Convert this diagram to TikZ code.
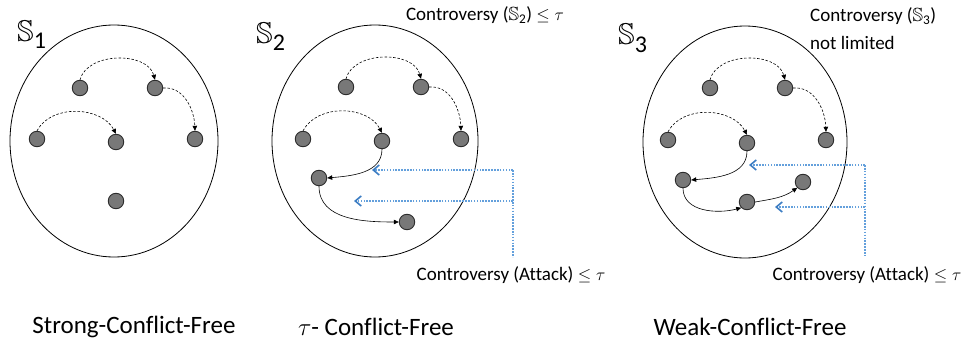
\documentclass[tikz,border=0pt]{standalone}
\usepackage{amsmath,amssymb}
\usepackage{fontspec}
\setmainfont[Ligatures=NoCommon]{Carlito}
\usetikzlibrary{arrows.meta}
\definecolor{nodefill}{RGB}{120,120,120}
\definecolor{nodeline}{RGB}{45,45,45}
\definecolor{dotblue}{RGB}{100,160,220}
\definecolor{tipblue}{RGB}{60,125,195}
\begin{document}
\begin{tikzpicture}[x=1pt,y=1pt,
  setell/.style={draw=black,line width=0.8pt},
  arg/.style={circle,fill=nodefill,draw=nodeline,line width=0.9pt,minimum size=15.5pt,inner sep=0pt},
  dasharr/.style={draw=black,line width=0.6pt,dash pattern=on 2.5pt off 1.8pt,-{Triangle[length=5pt,width=4.5pt]}},
  solarr/.style={draw=black,line width=0.6pt,-{Triangle[length=5pt,width=4.5pt]}},
  blueline/.style={draw=dotblue,line width=1.8pt,dash pattern=on 1.6pt off 1.3pt},
  bluearr/.style={blueline,-{Straight Barb[length=6pt,width=10pt,color=tipblue,line width=1.6pt]}},
  setlab/.style={inner sep=0pt,anchor=base west},
  annot/.style={inner sep=0pt,font=\fontsize{19}{28}\selectfont},
  bottomlab/.style={inner sep=0pt,font=\fontsize{25}{28}\selectfont}
]
\useasboundingbox (0,0) rectangle (962,341);

% ellipses
\draw[setell] (114,200) ellipse [x radius=104,y radius=116];
\draw[setell] (375,200) ellipse [x radius=103,y radius=116];
\draw[setell] (745,199) ellipse [x radius=102,y radius=116];

% set labels
\node[setlab] (s1) at (17,299) {{\fontsize{30}{30}\selectfont$\mathbb{S}$}\raisebox{-7pt}{\fontsize{24}{24}\selectfont 1}};
\node[setlab] (s2) at (256,298) {{\fontsize{30}{30}\selectfont$\mathbb{S}$}\raisebox{-7pt}{\fontsize{24}{24}\selectfont 2}};
\node[setlab] (s3) at (618,296) {{\fontsize{30}{30}\selectfont$\mathbb{S}$}\raisebox{-7pt}{\fontsize{24}{24}\selectfont 3}};

% set 1
\node[arg] (a1) at (80,253) {};
\node[arg] (a2) at (155,253) {};
\node[arg] (a3) at (37,202) {};
\node[arg] (a4) at (116,199) {};
\node[arg] (a5) at (195,202) {};
\node[arg] (a6) at (116,140) {};
\draw[dasharr] (a1.north) to[out=75,in=105] (a2.north);
\draw[dasharr] (a2.east) to[out=5,in=92] (a5.north);
\draw[dasharr] (a3.north) to[out=62,in=118] (a4.north);

% set 2
\node[arg] (b1) at (346,254) {};
\node[arg] (b2) at (421,254) {};
\node[arg] (b3) at (303,202) {};
\node[arg] (b4) at (382,200) {};
\node[arg] (b5) at (461,202) {};
\node[arg] (b6) at (319,163) {};
\node[arg] (b7) at (407,119) {};
\draw[dasharr] (b1.north) to[out=75,in=105] (b2.north);
\draw[dasharr] (b2.east) to[out=5,in=92] (b5.north);
\draw[dasharr] (b3.north) to[out=62,in=118] (b4.north);
\draw[solarr] (b4.south) to[out=-90,in=5] (b6.east);
\draw[solarr] (b6.south) to[out=-90,in=180] (b7.west);

% set 3
\node[arg] (c1) at (710,253) {};
\node[arg] (c2) at (785,253) {};
\node[arg] (c3) at (668,201) {};
\node[arg] (c4) at (747,198) {};
\node[arg] (c5) at (826,201) {};
\node[arg] (c6) at (683,161) {};
\node[arg] (c7) at (747,139) {};
\node[arg] (c8) at (803,159) {};
\draw[dasharr] (c1.north) to[out=75,in=105] (c2.north);
\draw[dasharr] (c2.east) to[out=5,in=92] (c5.north);
\draw[dasharr] (c3.north) to[out=62,in=118] (c4.north);
\draw[solarr] (c4.south) to[out=-90,in=5] (c6.east);
\draw[solarr] (c6.south) to[out=-90,in=195] (c7.south west);
\draw[solarr] (c7.east) to[out=10,in=215] (c8.south west);

% blue attack controversy markers, set 2
\coordinate (p2a) at (513,171);
\coordinate (p2b) at (513,140);
\coordinate (p2c) at (513,84);
\coordinate (t2a) at (372,171);
\coordinate (t2b) at (354,140);
\draw[blueline] (p2a) -- (p2c);
\draw[bluearr] (p2a) -- (t2a);
\draw[bluearr] (p2b) -- (t2b);

% blue attack controversy markers, set 3
\coordinate (p3a) at (865,176);
\coordinate (p3b) at (865,134);
\coordinate (p3c) at (865,86);
\coordinate (t3a) at (749,176);
\coordinate (t3b) at (775,134);
\draw[blueline] (p3a) -- (p3c);
\draw[bluearr] (p3a) -- (t3a);
\draw[bluearr] (p3b) -- (t3b);

% annotations
\node[annot] (att2) at (511,66) {Controversy (Attack) $\leq \tau$};
\node[annot] (att3) at (867,66) {Controversy (Attack) $\leq \tau$};
\node[annot] (top2) at (485,326) {Controversy ($\mathbb{S}_{\text{2}}$) $\leq \tau$};
\node[annot,anchor=west,align=left] (top3) at (810,312) {Controversy ($\mathbb{S}_{\text{3}}$)\\not limited};

% bottom labels
\node[bottomlab] (l1) at (134,14) {Strong-Conflict-Free};
\node[bottomlab] (l2) at (376,14) {$\tau$- Conflict-Free};
\node[bottomlab] (l3) at (750,14) {Weak-Conflict-Free};
\end{tikzpicture}
\end{document}
